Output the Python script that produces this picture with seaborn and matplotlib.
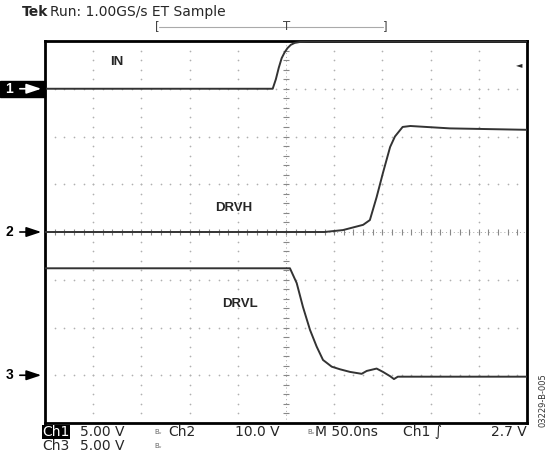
import matplotlib
matplotlib.use('Agg')

import numpy as np
import pandas as pd
import matplotlib.pyplot as plt
import seaborn as sns

# -------------------------------
# Scope settings
# -------------------------------
time_per_div = 50.0          # ns/div
ch_names = ["IN", "DRVH", "DRVL"]
ch_volts_per_div = [5.0, 10.0, 5.0]
ch_ground_div = [3.0, 0.0, -3.0]   # ground marker position (div from center)

# -------------------------------
# Traces (time in ns, level in V)
# -------------------------------
t_in = [-250, -13.8, -10.5, -7.5, -4.5, -1.5, 1.5, 5.0, 9.0, 14.5, 25, 250]
v_in = [0.0, 0.0, 1.0, 2.2, 3.2, 3.8, 4.25, 4.6, 4.8, 4.9, 4.95, 4.95]

t_drvh = [-250, 40, 59, 80, 87, 94, 100.6, 108, 113, 121, 129, 170, 250]
v_drvh = [0.0, 0.0, 0.4, 1.5, 2.5, 7.3, 12.4, 17.8, 20.0, 22.0, 22.2, 21.7, 21.4]

t_drvl = [-250, 4.1, 11.1, 17.6, 24.9, 31.8, 38.4, 47.4, 56, 66.4, 78.5,
          83.7, 94, 100.6, 108, 112, 116, 250]
v_drvl = [11.2, 11.2, 9.65, 7.15, 4.75, 3.0, 1.6, 0.9, 0.625, 0.35, 0.15,
          0.45, 0.7, 0.35, -0.1, -0.4, -0.15, -0.15]

frames = []
for name, t, v, vdiv, gnd in zip(ch_names, [t_in, t_drvh, t_drvl], [v_in, v_drvh, v_drvl],
                                 ch_volts_per_div, ch_ground_div):
    df = pd.DataFrame({"t": t, "v": v})
    df["div"] = df["v"] / vdiv + gnd
    df["ch"] = name
    frames.append(df)
df_all = pd.concat(frames, ignore_index=True)

# -------------------------------
# Figure
# -------------------------------
sns.set_style("white")
plt.rcParams['font.family'] = ['DejaVu Sans']

fig = plt.figure(figsize=(5.55, 4.57), dpi=100)
ax = fig.add_axes([45/555, 34/457, 482/555, 382/457])

xmin, xmax = -5 * time_per_div, 5 * time_per_div
ax.set_xlim(xmin, xmax)
ax.set_ylim(-4, 4)

# graticule: dots every 1/5 division along the major lines
grid_c = "#b0b0b0"
minor_t = np.arange(-25, 26) * time_per_div / 5
minor_v = np.arange(-20, 21) / 5
for gx in np.arange(-4, 5) * time_per_div:
    if gx != 0:
        ax.scatter(np.full_like(minor_v, gx), minor_v, s=1.5, color=grid_c, lw=0, zorder=1)
for gy in np.arange(-3, 4):
    if gy != 0:
        ax.scatter(minor_t, np.full_like(minor_t, gy), s=1.5, color=grid_c, lw=0, zorder=1)

# center cross with minor ticks
ax.axvline(0, color="#aaaaaa", lw=0.7, ls=(0, (1, 3)), zorder=1)
ax.axhline(0, color="#aaaaaa", lw=0.7, ls=(0, (1, 3)), zorder=1)
ax.scatter(minor_t, np.zeros_like(minor_t), marker="|", s=16, color="#888888", lw=0.8, zorder=1)
ax.scatter(np.zeros_like(minor_v), minor_v, marker="_", s=16, color="#888888", lw=0.8, zorder=1)

# traces
sns.lineplot(data=df_all, x="t", y="div", units="ch", estimator=None, sort=False,
             color="#333333", lw=1.4, ax=ax, zorder=3, legend=False)

ax.set_xticks([])
ax.set_yticks([])
ax.set_xlabel("")
ax.set_ylabel("")
for s in ax.spines.values():
    s.set_color("black")
    s.set_linewidth(2)

# channel labels
lab_pos = [(-182, 3.55), (-74, 0.5), (-66, -1.5)]
for name, (lx, ly) in zip(ch_names, lab_pos):
    ax.text(lx, ly, name, fontsize=9.5, fontweight="bold", family="Liberation Sans",
            ha="left", va="center")

# ground markers on the left
for i, gnd in enumerate(ch_ground_div):
    yy = gnd
    if i == 0:
        ax.add_patch(plt.Rectangle((-0.093, yy - 0.17), 0.093, 0.34, transform=ax.get_yaxis_transform(),
                                   color="black", clip_on=False, zorder=4))
        fc = "white"
    else:
        fc = "black"
    ax.text(-0.082, yy, str(i + 1), transform=ax.get_yaxis_transform(), fontsize=10,
            fontweight="bold", family="Liberation Sans", color=fc, ha="left", va="center", zorder=5)
    ax.annotate("", xy=(-0.002, yy), xytext=(-0.058, yy), xycoords=ax.get_yaxis_transform(),
                arrowprops=dict(arrowstyle="-|>,head_length=0.9,head_width=0.3", color=fc, lw=1.2),
                zorder=5, annotation_clip=False)

# trigger level marker on the right
ax.text(0.99, 3.5, "\u25c4", transform=ax.get_yaxis_transform(), fontsize=6, ha="right", va="center")

# header
fig.text(22/555, 1 - 12/457, "Tek", fontsize=10, fontweight="bold", ha="left", va="center")
fig.text(50/555, 1 - 12/457, "Run: 1.00GS/s ET Sample", fontsize=10, ha="left", va="center")
fig.text(157/555, 1 - 27/457, "[", fontsize=8.5, color="#444444", ha="center", va="center")
fig.text(385/555, 1 - 27/457, "]", fontsize=8.5, color="#444444", ha="center", va="center")
fig.text(287/555, 1 - 26/457, "T", fontsize=8.5, color="#444444", ha="center", va="center")
fig.add_artist(plt.Line2D([159/555, 383/555], [1 - 27/457, 1 - 27/457], color="#aaaaaa", lw=0.8))

# footer
y1 = 1 - 432/457
y2 = 1 - 446/457
fs = 10
fig.text(42/555, y1, "Ch1", fontsize=fs, color="white", ha="left", va="center",
         bbox=dict(facecolor="black", edgecolor="none", pad=0.2))
fig.text(42/555, y2, "Ch3", fontsize=fs, ha="left", va="center")
fig.text(80/555, y1, "5.00 V", fontsize=fs, ha="left", va="center")
fig.text(80/555, y2, "5.00 V", fontsize=fs, ha="left", va="center")
for bx, by in [(154, y1), (307, y1), (154, y2)]:
    fig.text(bx/555, by, "B\u1d65", fontsize=5, color="#666666", ha="left", va="center")
fig.text(168/555, y1, "Ch2", fontsize=fs, ha="left", va="center")
fig.text(235/555, y1, "10.0 V", fontsize=fs, ha="left", va="center")
fig.text(315/555, y1, "M 50.0ns", fontsize=fs, ha="left", va="center")
fig.text(403/555, y1, "Ch1 \u222b", fontsize=fs, ha="left", va="center")
fig.text(527/555, y1, "2.7 V", fontsize=fs, ha="right", va="center")

fig.text(543/555, 1 - 400/457, "03229-B-005", fontsize=6, color="#333333", rotation=90,
         ha="center", va="center")

fig.savefig("out.png", dpi=100)
